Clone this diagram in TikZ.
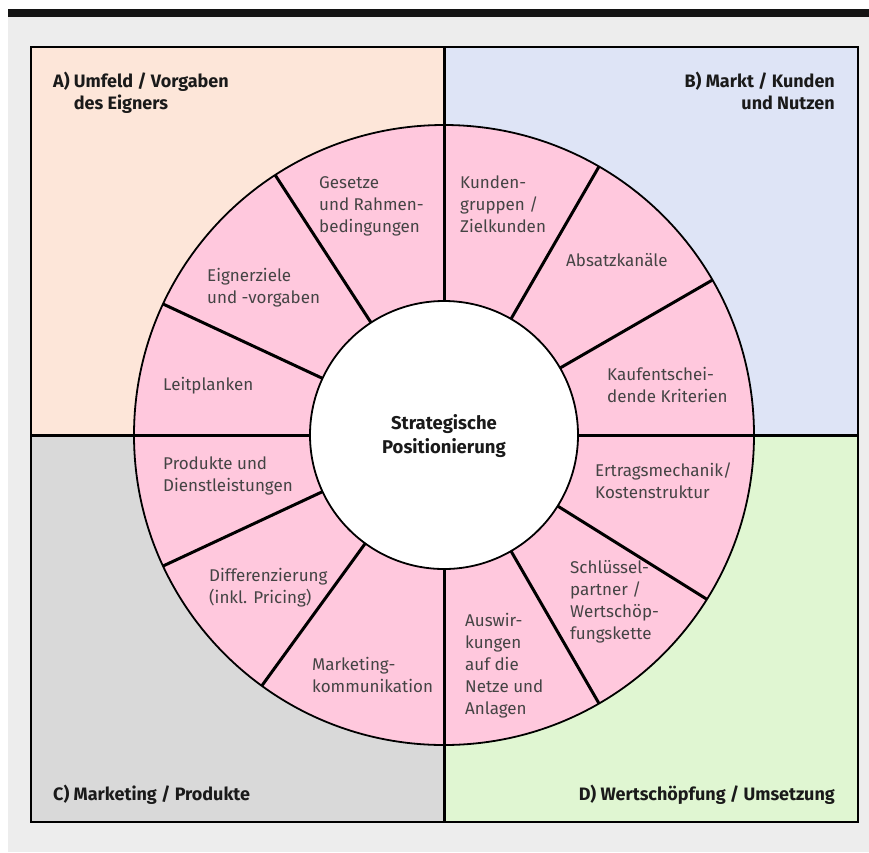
\documentclass[tikz,border=0pt]{standalone}
\usepackage{fontspec}
\setmainfont{Fira Sans}
\usetikzlibrary{calc}
\definecolor{bgA}{HTML}{FDE6D9}
\definecolor{bgB}{HTML}{DEE4F6}
\definecolor{bgC}{HTML}{D9D9D9}
\definecolor{bgD}{HTML}{E0F6D2}
\definecolor{ring}{HTML}{FFC8DD}
\definecolor{page}{HTML}{EDEDED}
\definecolor{txt}{HTML}{444444}
\definecolor{head}{HTML}{1A1A1A}
\tikzset{
  seclabel/.style={anchor=base west, inner sep=0pt, align=left, text=txt,
    font=\fontsize{17}{22}\selectfont},
  headlabel/.style={inner sep=0pt, text=head,
    font=\fontsize{18}{22}\selectfont\bfseries},
  divider/.style={line width=3pt, draw=black},
  thin/.style={line width=1.8pt, draw=black},
}
\begin{document}
\begin{tikzpicture}[x=1pt,y=-1pt]
\useasboundingbox (0,0) rectangle (869,852);
\fill[white] (0,0) rectangle (869,852);
\fill[page] (8,17) rectangle (869,852);
\fill[black!92] (8,9) rectangle (869,17);
\coordinate (c) at (444,435);
% quadrants
\fill[bgA] (31,47) rectangle (444,435);
\fill[bgB] (444,47) rectangle (858,435);
\fill[bgC] (31,435) rectangle (444,822);
\fill[bgD] (444,435) rectangle (858,822);
\draw[thin] (31,47) rectangle (858,822);
\coordinate (top) at (444,47);
\coordinate (bot) at (444,822);
\coordinate (lft) at (31,435);
\coordinate (rgt) at (858,435);
\draw[divider] (top) -- (bot);
\draw[divider] (lft) -- (rgt);
% ring
\fill[ring] (c) circle (310);
\foreach \a in {0,32,60,90,126,155,180,205,237,270,300,330}{
  \draw[divider] ($(c)+(\a:134)$) -- ($(c)+(\a:310)$);
}
\draw[thin] (c) circle (310);
\node[circle, fill=white, draw=black, line width=1.8pt, minimum size=268pt, inner sep=0pt] (core) at (c) {};
\node[headlabel, align=center, anchor=base, font=\fontsize{18.5}{24}\selectfont\bfseries] (center) at (444,453) {Strategische\\Positionierung};
% headings (base anchor = last line)
\node[headlabel, anchor=base west, align=left] (hA) at (53,109) {A) Umfeld / Vorgaben\\\hphantom{A)\ }des Eigners};
\node[headlabel, anchor=base east, align=right] (hB) at (835,109) {B) Markt / Kunden\\und Nutzen};
\node[headlabel, anchor=base west] (hC) at (53,800) {C) Marketing / Produkte};
\node[headlabel, anchor=base east] (hD) at (835,800) {D) Wertschöpfung / Umsetzung};
% sector labels (base anchor = last line)
\node[seclabel] (s1) at (319,232) {Gesetze\\und Rahmen-\\bedingungen};
\node[seclabel] (s2) at (207,303) {Eignerziele\\und -vorgaben};
\node[seclabel] (s3) at (163,390) {Leitplanken};
\node[seclabel] (s4) at (460,232) {Kunden-\\gruppen /\\Zielkunden};
\node[seclabel] (s5) at (566,266) {Absatzkanäle};
\node[seclabel] (s6) at (607,402) {Kaufentschei-\\dende Kriterien};
\node[seclabel] (s7) at (163,491) {Produkte und\\Dienstleistungen};
\node[seclabel] (s8) at (209,603) {Differenzierung\\(inkl. Pricing)};
\node[seclabel] (s9) at (312,692) {Marketing-\\kommunikation};
\node[seclabel] (s10) at (595,498) {Ertragsmechanik/\\Kostenstruktur};
\node[seclabel] (s11) at (570,639) {Schlüssel-\\partner /\\Wertschöp-\\fungskette};
\node[seclabel] (s12) at (465,714) {Auswir-\\kungen\\auf die\\Netze und\\Anlagen};
\end{tikzpicture}
\end{document}
